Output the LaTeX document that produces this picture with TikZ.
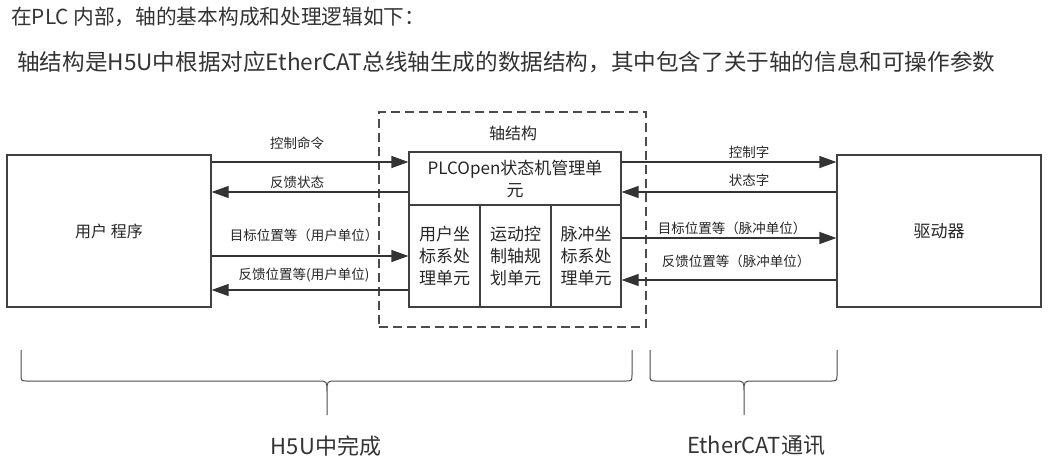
\documentclass[tikz,border=0pt]{standalone}
\usepackage{fontspec}
\setmainfont{Noto Sans CJK SC}
\usetikzlibrary{arrows.meta}

\begin{document}
\begin{tikzpicture}[x=1pt, y=-1pt, >={Triangle[length=17pt,width=12pt]},
  every node/.style={font=\fontsize{13.5}{16}\selectfont, text=black!85, inner sep=0pt},
  box/.style={draw=black!75, line width=1.2pt, align=center},
  unit/.style={box, minimum height=102pt, font=\fontsize{17}{22}\selectfont},
  link/.style={->, draw=black!80, line width=1.2pt},
  brace/.style={draw=black!70, line width=1pt}]
  \useasboundingbox (0,0) rectangle (1049,459);

  % heading
  \node[anchor=west, font=\fontsize{20.7}{24}\selectfont, text=black!80] (head) at (11,17) {在PLC 内部，轴的基本构成和处理逻辑如下：};
  \node[anchor=west, font=\fontsize{22.6}{28}\selectfont, text=black!80] (sub) at (17,62) {轴结构是H5U中根据对应EtherCAT总线轴生成的数据结构，其中包含了关于轴的信息和可操作参数};

  % blocks
  \node[box, minimum width=204pt, minimum height=152pt, font=\fontsize{16}{20}\selectfont] (prog) at (109,231) {用户 程序};
  \node[box, minimum width=204pt, minimum height=152pt, font=\fontsize{17}{20}\selectfont] (drv) at (939,231) {驱动器};
  \node[draw=black!70, line width=1.1pt, dash pattern=on 9pt off 5pt, minimum width=267pt, minimum height=215pt] (frame) at (512.5,219.5) {};
  \node[font=\fontsize{16}{20}\selectfont] (axis) at (513,133) {轴结构};
  \node[box, minimum width=212pt, minimum height=53pt, font=\fontsize{17}{22}\selectfont] (plc) at (515,178.5) {PLCOpen状态机管理单\\元};
  \node[unit, minimum width=71pt] (usr) at (444.5,256) {用户坐\\标系处\\理单元};
  \node[unit, minimum width=71pt] (mot) at (515.5,256) {运动控\\制轴规\\划单元};
  \node[unit, minimum width=70pt] (pul) at (586,256) {脉冲坐\\标系处\\理单元};

  % left side
  \draw[link] (prog.east |- 0,162) -- (plc.west |- 0,162);
  \draw[link] (plc.west |- 0,192) -- (prog.east |- 0,192);
  \draw[link] (prog.east |- 0,256) -- (usr.west |- 0,256);
  \draw[link] (usr.west |- 0,290) -- (prog.east |- 0,290);
  \node (cmd) at (297,143) {控制命令};
  \node (fbst) at (297,182) {反馈状态};
  \node (tgtu) at (304,235) {目标位置等（用户单位）};
  \node (fbu) at (304,275) {反馈位置等(用户单位)};

  % right side
  \draw[link] (plc.east |- 0,162) -- (drv.west |- 0,162);
  \draw[link] (drv.west |- 0,192) -- (plc.east |- 0,192);
  \draw[link] (pul.east |- 0,238) -- (drv.west |- 0,238);
  \draw[link] (drv.west |- 0,280) -- (pul.east |- 0,280);
  \node (cw) at (749,152) {控制字};
  \node (sw) at (749,180) {状态字};
  \node (tgtp) at (732,228) {目标位置等（脉冲单位）};
  \node (fbp) at (736,261) {反馈位置等（脉冲单位）};

  % braces
  \draw[brace] (21,350) -- (21,374) .. controls (21,381) .. (28,381) -- (318,381)
    .. controls (327,381) .. (327,392) -- (327,415)
    (327,392) .. controls (327,381) .. (336,381) -- (625,381) .. controls (632,381) .. (632,374) -- (632,350);
  \draw[brace] (650,350) -- (650,374) .. controls (650,381) .. (657,381) -- (735,381)
    .. controls (744,381) .. (744,392) -- (744,415)
    (744,392) .. controls (744,381) .. (753,381) -- (830,381) .. controls (837,381) .. (837,374) -- (837,350);
  \node[font=\fontsize{22}{26}\selectfont, text=black!80] (h5u) at (326,446) {H5U中完成};
  \node[font=\fontsize{22}{26}\selectfont, text=black!80] (ecat) at (756,446) {EtherCAT通讯};
\end{tikzpicture}
\end{document}
